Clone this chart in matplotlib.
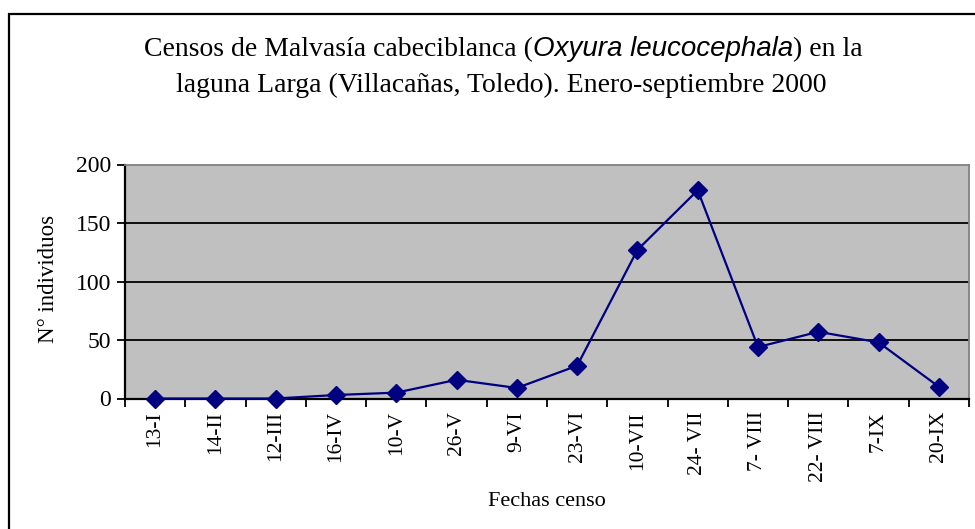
import matplotlib
matplotlib.use("Agg")
import matplotlib.pyplot as plt
from matplotlib.patches import Rectangle

fechas = ["13-I", "14-II", "12-III", "16-IV", "10-V", "26-V", "9-VI", "23-VI",
          "10-VII", "24- VII", "7- VIII", "22- VIII", "7-IX", "20-IX"]
individuos = [0, 0, 0, 3, 5, 16, 9, 28, 127, 178, 44, 57, 48, 10]
yticks = [0, 50, 100, 150, 200]

SERIF = "Liberation Serif"
SANS = "Liberation Sans"

fig = plt.figure(figsize=(9.75, 5.29), dpi=100)
fig.patch.set_facecolor("white")

# outer chart frame (runs off the right and bottom edges)
fig.patches.append(Rectangle((9 / 975, -0.05), 1.1, 1 - 14 / 529 + 0.05,
                             transform=fig.transFigure, fill=False,
                             edgecolor="black", linewidth=1.6))

ax = fig.add_axes([125 / 975, 1 - 398.5 / 529, 844 / 975, 234 / 529])
ax.set_facecolor("#C0C0C0")
x = list(range(len(fechas)))
ax.plot(x, individuos, color="#000080", linewidth=1.6, marker="D",
        markersize=9, zorder=3, clip_on=False)

ax.set_xlim(-0.5, len(fechas) - 0.5)
ax.set_ylim(0, 200)
ax.set_yticks(yticks)
for v in yticks[1:-1]:
    ax.axhline(v, color="black", linewidth=1.3, zorder=1)

ax.set_xticks(x)
ax.set_xticklabels(fechas, rotation=90, fontfamily=SERIF, fontsize=15.5)
ax.set_xticks([i - 0.5 for i in range(len(fechas) + 1)], minor=True)
ax.tick_params(axis="x", which="major", length=0, pad=9)
ax.tick_params(axis="x", which="minor", length=6, width=1.3, color="black")
ax.tick_params(axis="y", length=6, width=1.3, pad=4, labelsize=17)
for lab in ax.get_yticklabels():
    lab.set_fontfamily(SERIF)

for s in ["left", "bottom"]:
    ax.spines[s].set_color("black")
    ax.spines[s].set_linewidth(1.6)
for s in ["top", "right"]:
    ax.spines[s].set_color("#808080")
    ax.spines[s].set_linewidth(1.3)

fig.text(547 / 975, 1 - 502 / 529, "Fechas censo", ha="center", va="center",
         fontfamily=SERIF, fontsize=16)
fig.text(48 / 975, 1 - 279 / 529, "N° individuos", ha="center", va="center",
         rotation=90, fontfamily=SERIF, fontsize=16.5)

# title with italic species name in a sans font
title_size = 20
pieces = [("Censos de Malvasía cabeciblanca (", SERIF, "normal"),
          ("Oxyura leucocephala", SANS, "italic"),
          (") en la", SERIF, "normal")]
renderer = fig.canvas.get_renderer()
texts = []
for txt, fam, style in pieces:
    t = fig.text(0, 1 - 56 / 529, txt, fontfamily=fam, fontstyle=style,
                 fontsize=title_size, ha="left", va="baseline")
    texts.append(t)
widths = [t.get_window_extent(renderer).width for t in texts]
x0 = 503 - sum(widths) / 2
for t, w in zip(texts, widths):
    t.set_x(x0 / 975)
    x0 += w
fig.text(501 / 975, 1 - 92 / 529,
         "laguna Larga (Villacañas, Toledo). Enero-septiembre 2000",
         ha="center", va="baseline", fontfamily=SERIF, fontsize=title_size)

fig.savefig("out.png", dpi=100)
